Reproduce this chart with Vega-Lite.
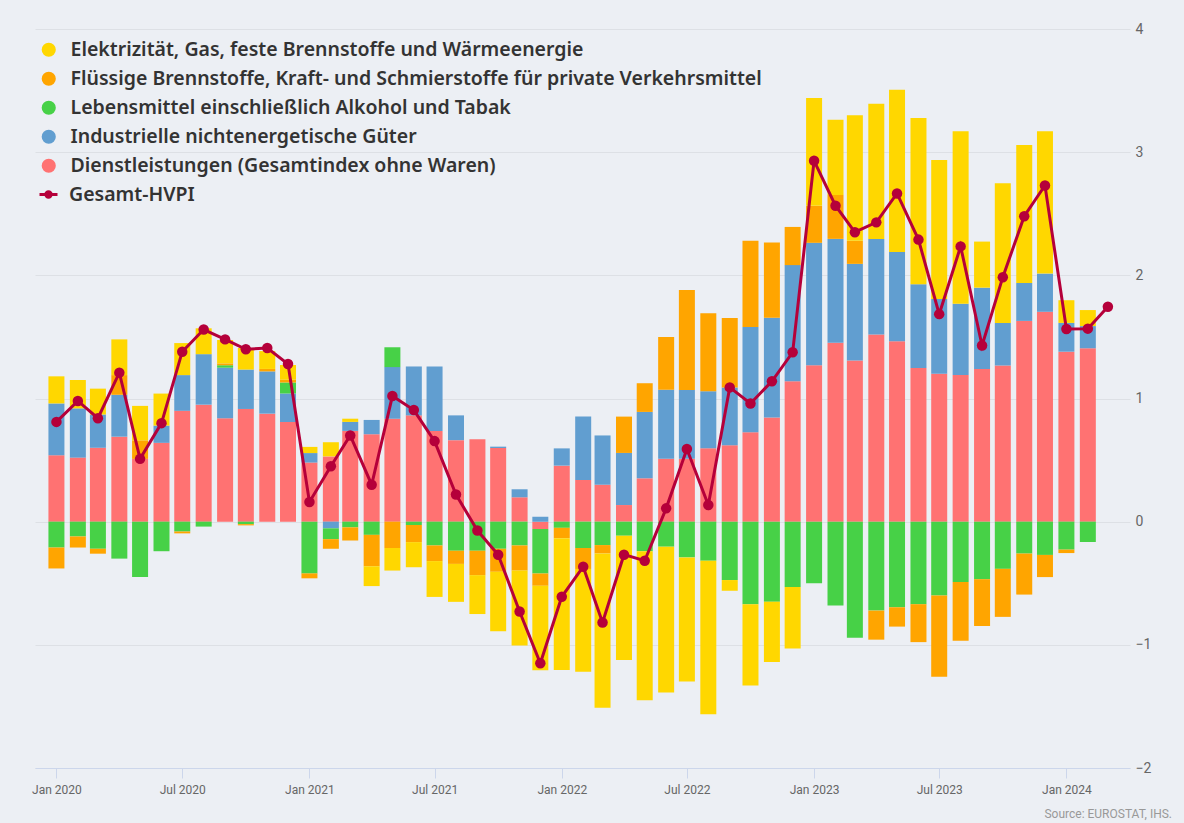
{
  "$schema": "https://vega.github.io/schema/vega-lite/v6.json",
  "width": 1095,
  "height": 739,
  "autosize": {"type": "none"},
  "padding": {"left": 35, "top": 29, "right": 54, "bottom": 55},
  "background": "#ECEFF4",
  "config": {"view": {"stroke": null}, "font": "Noto Sans"},
  "title": {"text": "Source: EUROSTAT, IHS.", "orient": "bottom", "anchor": "end", "frame": "group", "dx": 42, "offset": 14, "fontSize": 12, "fontWeight": "normal", "color": "#999999", "font": "Roboto"},
  "datasets": {
    "series": [
      {"key": "S", "label": "Dienstleistungen (Gesamtindex ohne Waren)", "rank": 1},
      {"key": "I", "label": "Industrielle nichtenergetische Güter", "rank": 2},
      {"key": "F", "label": "Lebensmittel einschließlich Alkohol und Tabak", "rank": 3},
      {"key": "O", "label": "Flüssige Brennstoffe, Kraft- und Schmierstoffe für private Verkehrsmittel", "rank": 4},
      {"key": "E", "label": "Elektrizität, Gas, feste Brennstoffe und Wärmeenergie", "rank": 5}
    ],
    "hvpi": [
      {"m": "2020-01-01", "S": 0.54, "I": 0.42, "E": 0.22, "F": -0.21, "O": -0.17, "T": 0.81},
      {"m": "2020-02-01", "S": 0.52, "I": 0.40, "E": 0.23, "F": -0.12, "O": -0.09, "T": 0.98},
      {"m": "2020-03-01", "S": 0.60, "I": 0.27, "E": 0.21, "F": -0.22, "O": -0.04, "T": 0.84},
      {"m": "2020-04-01", "S": 0.69, "I": 0.34, "O": 0.16, "E": 0.29, "F": -0.30, "T": 1.21},
      {"m": "2020-05-01", "S": 0.51, "O": 0.15, "E": 0.28, "F": -0.45, "T": 0.51},
      {"m": "2020-06-01", "S": 0.64, "I": 0.14, "E": 0.26, "F": -0.24, "T": 0.80},
      {"m": "2020-07-01", "S": 0.90, "I": 0.29, "E": 0.26, "F": -0.08, "O": -0.015, "T": 1.38},
      {"m": "2020-08-01", "S": 0.95, "I": 0.41, "E": 0.21, "F": -0.04, "T": 1.56},
      {"m": "2020-09-01", "S": 0.84, "I": 0.41, "F": 0.02, "O": 0.015, "E": 0.19, "T": 1.48},
      {"m": "2020-10-01", "S": 0.915, "I": 0.32, "E": 0.175, "F": -0.02, "O": -0.01, "T": 1.40},
      {"m": "2020-11-01", "S": 0.877, "I": 0.343, "O": 0.02, "E": 0.145, "T": 1.41},
      {"m": "2020-12-01", "S": 0.81, "I": 0.23, "F": 0.09, "O": 0.022, "E": 0.12, "T": 1.28},
      {"m": "2021-01-01", "S": 0.48, "I": 0.077, "E": 0.05, "F": -0.42, "O": -0.04, "T": 0.16},
      {"m": "2021-02-01", "S": 0.53, "E": 0.115, "I": -0.054, "F": -0.088, "O": -0.078, "T": 0.45},
      {"m": "2021-03-01", "S": 0.737, "I": 0.073, "E": 0.026, "F": -0.046, "O": -0.107, "T": 0.70},
      {"m": "2021-04-01", "S": 0.71, "I": 0.116, "F": -0.107, "O": -0.255, "E": -0.161, "T": 0.30},
      {"m": "2021-05-01", "S": 0.836, "I": 0.419, "F": 0.161, "O": -0.214, "E": -0.183, "T": 1.02},
      {"m": "2021-06-01", "S": 0.863, "I": 0.397, "F": -0.027, "O": -0.139, "E": -0.204, "T": 0.906},
      {"m": "2021-07-01", "S": 0.737, "I": 0.523, "F": -0.193, "O": -0.127, "E": -0.291, "T": 0.654},
      {"m": "2021-08-01", "S": 0.662, "I": 0.201, "F": -0.236, "O": -0.107, "E": -0.308, "T": 0.22},
      {"m": "2021-09-01", "S": 0.67, "F": -0.236, "O": -0.198, "E": -0.316, "T": -0.072},
      {"m": "2021-10-01", "S": 0.598, "I": 0.011, "F": -0.22, "O": -0.187, "E": -0.483, "T": -0.268},
      {"m": "2021-11-01", "S": 0.198, "I": 0.065, "F": -0.193, "O": -0.204, "E": -0.608, "T": -0.73},
      {"m": "2021-12-01", "S": -0.06, "I": 0.04, "F": -0.36, "O": -0.10, "E": -0.686, "T": -1.15},
      {"m": "2022-01-01", "S": 0.455, "I": 0.14, "F": -0.05, "O": -0.084, "E": -1.07, "T": -0.61},
      {"m": "2022-02-01", "S": 0.339, "I": 0.515, "F": -0.214, "O": -0.17, "E": -0.835, "T": -0.366},
      {"m": "2022-03-01", "S": 0.30, "I": 0.40, "F": -0.19, "O": -0.068, "E": -1.252, "T": -0.818},
      {"m": "2022-04-01", "S": 0.135, "I": 0.423, "O": 0.295, "F": -0.114, "E": -1.01, "T": -0.268},
      {"m": "2022-05-01", "S": 0.352, "I": 0.539, "O": 0.233, "F": -0.24, "E": -1.209, "T": -0.317},
      {"m": "2022-06-01", "S": 0.51, "I": 0.561, "O": 0.428, "F": -0.203, "E": -1.184, "T": 0.108},
      {"m": "2022-07-01", "S": 0.51, "I": 0.56, "O": 0.81, "F": -0.29, "E": -1.008, "T": 0.59},
      {"m": "2022-08-01", "S": 0.596, "I": 0.463, "O": 0.634, "F": -0.317, "E": -1.246, "T": 0.135},
      {"m": "2022-09-01", "S": 0.62, "I": 0.47, "O": 0.563, "F": -0.474, "E": -0.087, "T": 1.09},
      {"m": "2022-10-01", "S": 0.725, "I": 0.855, "O": 0.70, "F": -0.67, "E": -0.66, "T": 0.96},
      {"m": "2022-11-01", "S": 0.846, "I": 0.81, "O": 0.61, "F": -0.65, "E": -0.49, "T": 1.14},
      {"m": "2022-12-01", "S": 1.14, "I": 0.943, "O": 0.31, "F": -0.53, "E": -0.50, "T": 1.375},
      {"m": "2023-01-01", "S": 1.27, "I": 0.994, "O": 0.30, "E": 0.876, "F": -0.50, "T": 2.93},
      {"m": "2023-02-01", "S": 1.453, "I": 0.843, "O": 0.357, "E": 0.61, "F": -0.68, "T": 2.565},
      {"m": "2023-03-01", "S": 1.308, "I": 0.785, "O": 0.187, "E": 1.02, "F": -0.943, "T": 2.35},
      {"m": "2023-04-01", "S": 1.52, "I": 0.776, "E": 1.097, "F": -0.722, "O": -0.236, "T": 2.43},
      {"m": "2023-05-01", "S": 1.465, "I": 0.725, "E": 1.317, "F": -0.695, "O": -0.157, "T": 2.665},
      {"m": "2023-06-01", "S": 1.248, "I": 0.68, "E": 1.35, "F": -0.67, "O": -0.308, "T": 2.29},
      {"m": "2023-07-01", "S": 1.2, "I": 0.607, "E": 1.13, "F": -0.60, "O": -0.66, "T": 1.685},
      {"m": "2023-08-01", "S": 1.19, "I": 0.58, "E": 1.40, "F": -0.49, "O": -0.477, "T": 2.235},
      {"m": "2023-09-01", "S": 1.24, "I": 0.66, "E": 0.374, "F": -0.467, "O": -0.38, "T": 1.43},
      {"m": "2023-10-01", "S": 1.268, "I": 0.346, "E": 1.134, "F": -0.383, "O": -0.39, "T": 1.985},
      {"m": "2023-11-01", "S": 1.63, "I": 0.308, "E": 1.12, "F": -0.259, "O": -0.333, "T": 2.48},
      {"m": "2023-12-01", "S": 1.704, "I": 0.31, "E": 1.156, "F": -0.27, "O": -0.18, "T": 2.73},
      {"m": "2024-01-01", "S": 1.38, "I": 0.234, "E": 0.184, "F": -0.227, "O": -0.028, "T": 1.564},
      {"m": "2024-02-01", "S": 1.408, "I": 0.18, "E": 0.13, "F": -0.165, "T": 1.567},
      {"m": "2024-03-01", "T": 1.745}
    ]
  },
  "data": {"name": "hvpi"},
  "encoding": {
    "x": {
      "field": "m",
      "type": "temporal",
      "title": null,
      "scale": {
        "type": "utc",
        "padding": 0,
        "domain": [
          {"year": 2019, "month": 12, "date": 1, "utc": true},
          {"year": 2024, "month": 4, "date": 2, "utc": true}
        ]
      },
      "axis": {
        "values": [
          {"year": 2020, "month": 1, "date": 1, "utc": true},
          {"year": 2020, "month": 7, "date": 1, "utc": true},
          {"year": 2021, "month": 1, "date": 1, "utc": true},
          {"year": 2021, "month": 7, "date": 1, "utc": true},
          {"year": 2022, "month": 1, "date": 1, "utc": true},
          {"year": 2022, "month": 7, "date": 1, "utc": true},
          {"year": 2023, "month": 1, "date": 1, "utc": true},
          {"year": 2023, "month": 7, "date": 1, "utc": true},
          {"year": 2024, "month": 1, "date": 1, "utc": true}
        ],
        "labelExpr": "utcFormat(datum.value, '%b %Y')",
        "grid": false,
        "labelFont": "Roboto",
        "labelFontSize": 12,
        "labelColor": "#666666",
        "domainColor": "#CCD6EB",
        "tickColor": "#CCD6EB",
        "tickSize": 10,
        "labelPadding": 6,
        "labelFlush": false
      }
    }
  },
  "layer": [
    {
      "transform": [
        {"fold": ["S", "I", "F", "O", "E"], "as": ["key", "value"]},
        {"filter": {"field": "value", "valid": true}},
        {"lookup": "key", "from": {"data": {"name": "series"}, "key": "key", "fields": ["label", "rank"]}}
      ],
      "mark": {"type": "bar", "width": 16},
      "encoding": {
        "y": {
          "field": "value",
          "type": "quantitative",
          "stack": "zero",
          "title": null,
          "scale": {"domain": [-2, 4], "nice": false, "zero": false},
          "axis": {
            "orient": "right",
            "values": [-2, -1, 0, 1, 2, 3, 4],
            "format": "d",
            "grid": true,
            "gridColor": "#DDE0E5",
            "domain": false,
            "ticks": false,
            "labelFont": "Roboto",
            "labelFontSize": 14,
            "labelColor": "#666666",
            "labelPadding": 5
          }
        },
        "fill": {
          "field": "label",
          "type": "nominal",
          "scale": {
            "domain": [
              "Elektrizität, Gas, feste Brennstoffe und Wärmeenergie",
              "Flüssige Brennstoffe, Kraft- und Schmierstoffe für private Verkehrsmittel",
              "Lebensmittel einschließlich Alkohol und Tabak",
              "Industrielle nichtenergetische Güter",
              "Dienstleistungen (Gesamtindex ohne Waren)"
            ],
            "range": ["#FFD700", "#FFA500", "#47D147", "#619ED0", "#FF7272"]
          },
          "legend": {
            "title": null,
            "orient": "none",
            "legendX": 4,
            "legendY": 11,
            "direction": "vertical",
            "symbolType": "circle",
            "symbolSize": 200,
            "symbolStrokeWidth": 0,
            "labelFont": "Noto Sans",
            "labelFontSize": 19.5,
            "labelFontWeight": 600,
            "labelColor": "#333333",
            "labelOffset": 12,
            "rowPadding": 8,
            "labelLimit": 1000
          }
        },
        "order": {"field": "rank", "type": "quantitative"}
      }
    },
    {
      "mark": {"type": "line", "strokeWidth": 3},
      "encoding": {
        "y": {"field": "T", "type": "quantitative", "title": null},
        "stroke": {
          "datum": "Gesamt-HVPI",
          "scale": {"range": ["#B5003A"]},
          "legend": {
            "title": null,
            "orient": "none",
            "legendX": 3,
            "legendY": 155,
            "symbolType": "M-1,0H1M0.3,0A0.3,0.3,0,1,1,-0.3,0A0.3,0.3,0,1,1,0.3,0Z",
            "symbolSize": 324,
            "symbolStrokeWidth": 3,
            "symbolFillColor": "#B5003A",
            "labelFont": "Noto Sans",
            "labelFontSize": 19.5,
            "labelFontWeight": 600,
            "labelColor": "#333333",
            "labelOffset": 10,
            "labelLimit": 1000
          }
        }
      }
    },
    {
      "mark": {"type": "point", "filled": true, "size": 110, "color": "#B5003A", "opacity": 1},
      "encoding": {
        "y": {"field": "T", "type": "quantitative", "title": null}
      }
    }
  ]
}
